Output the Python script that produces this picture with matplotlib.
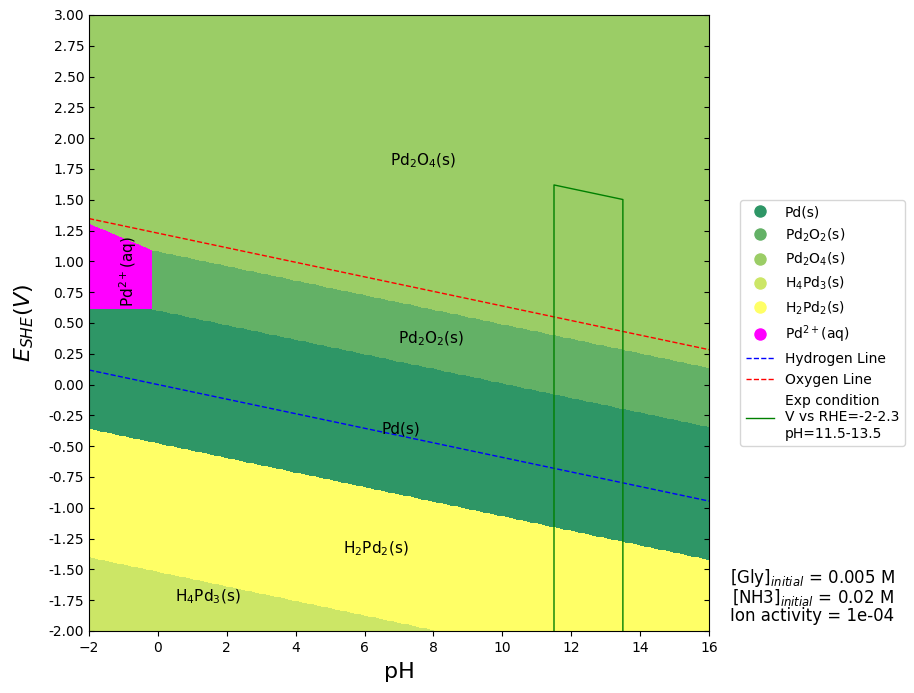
import numpy as np
import matplotlib
matplotlib.use("Agg")
import matplotlib.pyplot as plt
from matplotlib.colors import ListedColormap
from matplotlib.lines import Line2D

# ---- data ----
species = ["Pd(s)", "Pd$_2$O$_2$(s)", "Pd$_2$O$_4$(s)", "H$_4$Pd$_3$(s)", "H$_2$Pd$_2$(s)", "Pd$^{2+}$(aq)"]
species_colors = ["#2e9666", "#63b166", "#9bcd66", "#cce666", "#ffff66", "#ff00ff"]

# boundary lines E = a + b*pH
nernst_slope = -0.0591
b_pd2o4 = 1.08      # Pd2O2 / Pd2O4
b_pd2o2 = 0.60      # Pd / Pd2O2
b_pd = -0.478       # H2Pd2 / Pd
b_h2pd2 = -1.52     # H4Pd3 / H2Pd2
pd2_top_a, pd2_top_b = 1.07, -0.118   # Pd2+ / Pd2O4
pd2_bottom = 0.61                     # Pd2+ / Pd
pd2_right_pH = -0.15                  # Pd2+ / Pd2O2

water_o2 = 1.229
water_h2 = 0.0

exp_pH = [11.5, 13.5]
exp_V_rhe = [-2.0, 2.3]

region_labels = [("Pd$_2$O$_4$(s)", 7.70, 1.82), ("Pd$_2$O$_2$(s)", 7.93, 0.37),
                 ("Pd(s)", 7.05, -0.36), ("H$_2$Pd$_2$(s)", 6.33, -1.33),
                 ("H$_4$Pd$_3$(s)", 1.45, -1.72)]

info_lines = ["[Gly]$_{initial}$ = 0.005 M", "[NH3]$_{initial}$ = 0.02 M", "Ion activity = 1e-04"]

pH_range = [-2, 16]
E_range = [-2, 3]

# ---- compute region map ----
ph = np.linspace(pH_range[0], pH_range[1], 700)
E = np.linspace(E_range[0], E_range[1], 800)
PH, EE = np.meshgrid(ph, E)
reg = np.full(PH.shape, 3)  # H4Pd3
reg[EE > b_h2pd2 + nernst_slope * PH] = 4
reg[EE > b_pd + nernst_slope * PH] = 0
reg[EE > b_pd2o2 + nernst_slope * PH] = 1
reg[EE > b_pd2o4 + nernst_slope * PH] = 2
mask_pd2 = (PH < pd2_right_pH) & (EE > pd2_bottom) & (EE < pd2_top_a + pd2_top_b * PH)
reg[mask_pd2] = 5

fig = plt.figure(figsize=(9.14, 6.93), dpi=100)
ax = fig.add_axes([0.0974, 0.0895, 0.6783, 0.8889])
cmap = ListedColormap(species_colors)
ax.pcolormesh(PH, EE, reg, cmap=cmap, vmin=-0.5, vmax=5.5, shading="auto")

ax.plot(pH_range, [water_h2 + nernst_slope * p for p in pH_range], "b--", lw=1)
ax.plot(pH_range, [water_o2 + nernst_slope * p for p in pH_range], "r--", lw=1)

ex = [exp_pH[0], exp_pH[0], exp_pH[1], exp_pH[1]]
ey = [exp_V_rhe[0] + nernst_slope * exp_pH[0], exp_V_rhe[1] + nernst_slope * exp_pH[0],
      exp_V_rhe[1] + nernst_slope * exp_pH[1], exp_V_rhe[0] + nernst_slope * exp_pH[1]]
ax.plot(ex, ey, color="green", lw=1)

for t, x, y in region_labels:
    ax.text(x, y, t, fontsize=11, ha="center", va="center")
ax.text(-0.85, 0.92, "Pd$^{2+}$(aq)", fontsize=11, rotation=90, ha="center", va="center")

ax.set_xlim(pH_range)
ax.set_ylim(E_range)
ax.set_xticks(np.arange(-2, 17, 2))
ax.set_yticks(np.arange(-2, 3.01, 0.25))
ax.yaxis.set_major_formatter(matplotlib.ticker.FormatStrFormatter("%.2f"))
ax.tick_params(axis="y", direction="in", left=True, right=True)
ax.set_xlabel("pH", fontsize=16, labelpad=5.5)
ax.set_ylabel("$E_{SHE} (V)$", fontsize=16, labelpad=9)

handles = [Line2D([0], [0], marker="o", color="w", markerfacecolor=c, markersize=10, label=s)
           for s, c in zip(species, species_colors)]
handles += [Line2D([0], [0], color="b", ls="--", lw=1, label="Hydrogen Line"),
            Line2D([0], [0], color="r", ls="--", lw=1, label="Oxygen Line"),
            Line2D([0], [0], color="green", lw=1,
                   label="Exp condition\nV vs RHE=-2-2.3\npH=11.5-13.5")]
fig.legend(handles=handles, loc="center left", bbox_to_anchor=(0.8025, 0.534), fontsize=10)

for i, line in enumerate(info_lines):
    fig.text(0.889, 1 - (578 + 19 * i) / 693, line, fontsize=12, ha="center", va="center")

fig.savefig("out.png", dpi=100)
